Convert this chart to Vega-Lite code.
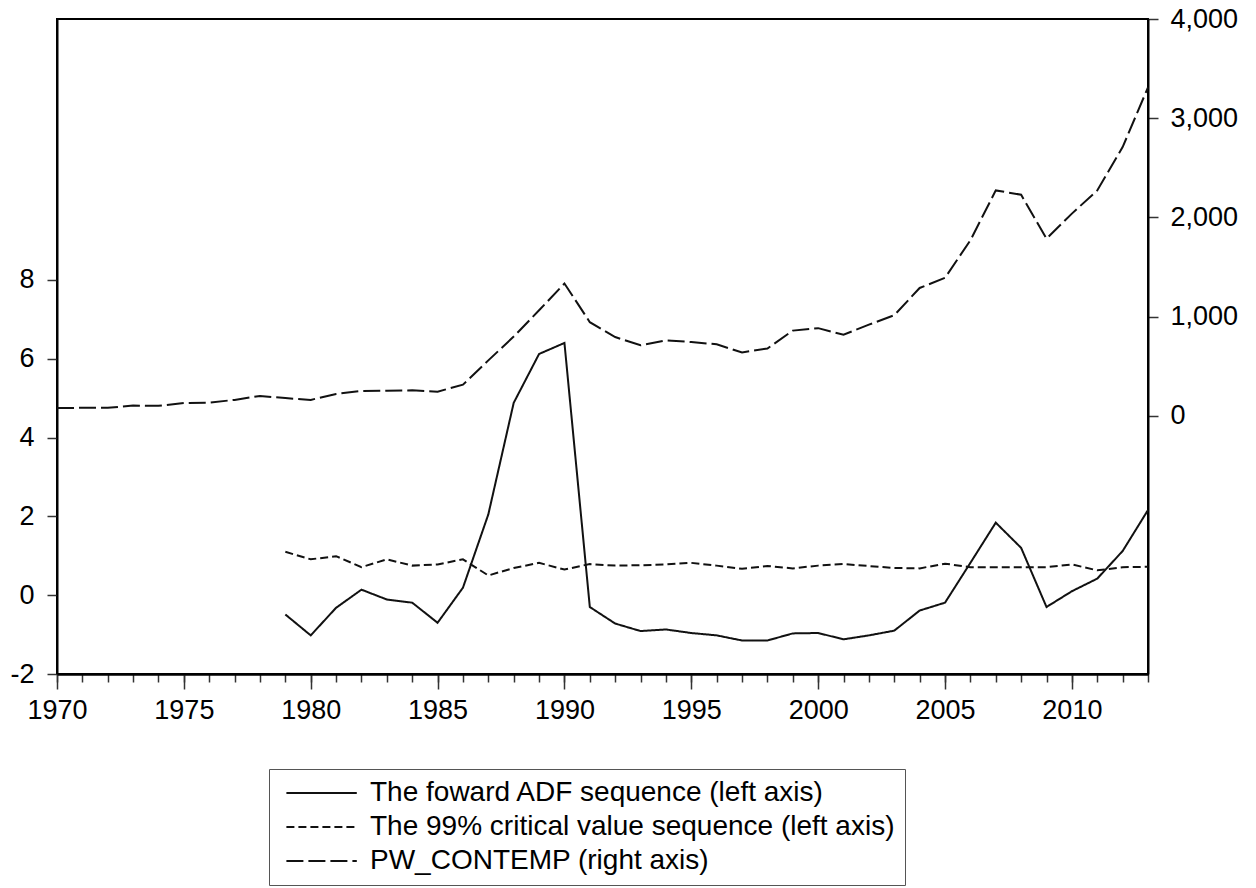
{
  "$schema": "https://vega.github.io/schema/vega-lite/v6.json",
  "width": 1091,
  "height": 655,
  "autosize": {"type": "none"},
  "padding": {"left": 57, "top": 19, "right": 108, "bottom": 214},
  "background": "white",
  "config": {
    "font": "Liberation Sans",
    "view": {"stroke": "black", "strokeWidth": 2},
    "axis": {
      "grid": false,
      "title": null,
      "domainColor": "black",
      "domainWidth": 2,
      "tickColor": "#333333",
      "tickWidth": 1.5,
      "labelColor": "black",
      "labelFont": "Liberation Sans",
      "labelFontSize": 27,
      "labelFlush": false
    }
  },
  "datasets": {
    "adf": [
      {"year": 1979, "value": -0.49}, {"year": 1980, "value": -1.02}, {"year": 1981, "value": -0.32},
      {"year": 1982, "value": 0.14}, {"year": 1983, "value": -0.11}, {"year": 1984, "value": -0.19},
      {"year": 1985, "value": -0.70}, {"year": 1986, "value": 0.19}, {"year": 1987, "value": 2.05},
      {"year": 1988, "value": 4.88}, {"year": 1989, "value": 6.12}, {"year": 1990, "value": 6.40},
      {"year": 1991, "value": -0.30}, {"year": 1992, "value": -0.72}, {"year": 1993, "value": -0.91},
      {"year": 1994, "value": -0.87}, {"year": 1995, "value": -0.96}, {"year": 1996, "value": -1.02},
      {"year": 1997, "value": -1.15}, {"year": 1998, "value": -1.15}, {"year": 1999, "value": -0.97},
      {"year": 2000, "value": -0.96}, {"year": 2001, "value": -1.12}, {"year": 2002, "value": -1.02},
      {"year": 2003, "value": -0.90}, {"year": 2004, "value": -0.39}, {"year": 2005, "value": -0.19},
      {"year": 2006, "value": 0.82}, {"year": 2007, "value": 1.84}, {"year": 2008, "value": 1.20},
      {"year": 2009, "value": -0.30}, {"year": 2010, "value": 0.10}, {"year": 2011, "value": 0.42},
      {"year": 2012, "value": 1.12}, {"year": 2013, "value": 2.16}
    ],
    "crit": [
      {"year": 1979, "value": 1.10}, {"year": 1980, "value": 0.91}, {"year": 1981, "value": 0.99},
      {"year": 1982, "value": 0.71}, {"year": 1983, "value": 0.91}, {"year": 1984, "value": 0.75},
      {"year": 1985, "value": 0.78}, {"year": 1986, "value": 0.91}, {"year": 1987, "value": 0.50},
      {"year": 1988, "value": 0.69}, {"year": 1989, "value": 0.82}, {"year": 1990, "value": 0.65},
      {"year": 1991, "value": 0.79}, {"year": 1992, "value": 0.75}, {"year": 1993, "value": 0.76},
      {"year": 1994, "value": 0.78}, {"year": 1995, "value": 0.82}, {"year": 1996, "value": 0.75},
      {"year": 1997, "value": 0.67}, {"year": 1998, "value": 0.74}, {"year": 1999, "value": 0.68},
      {"year": 2000, "value": 0.75}, {"year": 2001, "value": 0.79}, {"year": 2002, "value": 0.74},
      {"year": 2003, "value": 0.69}, {"year": 2004, "value": 0.68}, {"year": 2005, "value": 0.80},
      {"year": 2006, "value": 0.71}, {"year": 2007, "value": 0.71}, {"year": 2008, "value": 0.71},
      {"year": 2009, "value": 0.71}, {"year": 2010, "value": 0.78}, {"year": 2011, "value": 0.63},
      {"year": 2012, "value": 0.71}, {"year": 2013, "value": 0.72}
    ],
    "pw": [
      {"year": 1970, "value": 80}, {"year": 1971, "value": 82}, {"year": 1972, "value": 82},
      {"year": 1973, "value": 105}, {"year": 1974, "value": 102}, {"year": 1975, "value": 130},
      {"year": 1976, "value": 135}, {"year": 1977, "value": 162}, {"year": 1978, "value": 202},
      {"year": 1979, "value": 180}, {"year": 1980, "value": 162}, {"year": 1981, "value": 222},
      {"year": 1982, "value": 252}, {"year": 1983, "value": 255}, {"year": 1984, "value": 258},
      {"year": 1985, "value": 245}, {"year": 1986, "value": 315}, {"year": 1987, "value": 560},
      {"year": 1988, "value": 800}, {"year": 1989, "value": 1065}, {"year": 1990, "value": 1335},
      {"year": 1991, "value": 945}, {"year": 1992, "value": 795}, {"year": 1993, "value": 712},
      {"year": 1994, "value": 762}, {"year": 1995, "value": 745}, {"year": 1996, "value": 722},
      {"year": 1997, "value": 640}, {"year": 1998, "value": 680}, {"year": 1999, "value": 860},
      {"year": 2000, "value": 885}, {"year": 2001, "value": 818}, {"year": 2002, "value": 920},
      {"year": 2003, "value": 1015}, {"year": 2004, "value": 1290}, {"year": 2005, "value": 1392},
      {"year": 2006, "value": 1770}, {"year": 2007, "value": 2273}, {"year": 2008, "value": 2229},
      {"year": 2009, "value": 1787}, {"year": 2010, "value": 2039}, {"year": 2011, "value": 2273},
      {"year": 2012, "value": 2709}, {"year": 2013, "value": 3311}
    ]
  },
  "layer": [
    {
      "data": {"name": "adf"},
      "mark": {"type": "line", "color": "#111111", "strokeWidth": 2},
      "encoding": {
        "x": {
          "field": "year", "type": "quantitative",
          "scale": {"domain": [1970, 2013], "nice": false, "zero": false},
          "axis": {
            "orient": "bottom", "labels": false, "tickSize": 8,
            "values": [1970,1971,1972,1973,1974,1975,1976,1977,1978,1979,1980,1981,1982,1983,1984,1985,1986,1987,1988,1989,1990,1991,1992,1993,1994,1995,1996,1997,1998,1999,2000,2001,2002,2003,2004,2005,2006,2007,2008,2009,2010,2011,2012,2013]
          }
        },
        "y": {
          "field": "value", "type": "quantitative",
          "scale": {"domain": [-2, 14.62], "nice": false, "zero": false},
          "axis": {
            "orient": "left", "values": [-2, 0, 2, 4, 6, 8], "tickSize": 10, "labelPadding": 13,
            "labelExpr": "replace(datum.label, '\u2212', '-')"
          }
        },
        "strokeDash": {
          "datum": "The foward ADF sequence (left axis)", "type": "nominal",
          "scale": {
            "domain": ["The foward ADF sequence (left axis)", "The 99% critical value sequence (left axis)", "PW_CONTEMP (right axis)"],
            "range": [[1, 0], [8, 4], [17, 5]]
          },
          "legend": {
            "orient": "none", "legendX": 212, "legendY": 750, "title": null,
            "direction": "vertical",
            "symbolType": "M-0.6,0H5.8", "symbolSize": 484, "symbolStrokeWidth": 2,
            "symbolStrokeColor": "black", "symbolFillColor": "transparent",
            "labelFontSize": 28, "labelColor": "black", "labelFont": "Liberation Sans",
            "labelLimit": 900,
            "labelOffset": 63, "rowPadding": 6, "padding": 10,
            "strokeColor": "#555555", "fillColor": "white"
          }
        }
      }
    },
    {
      "data": {"name": "crit"},
      "mark": {"type": "line", "color": "#111111", "strokeWidth": 2},
      "encoding": {
        "x": {
          "field": "year", "type": "quantitative",
          "scale": {"domain": [1970, 2013], "nice": false, "zero": false},
          "axis": {
            "orient": "bottom", "tickSize": 15, "labelPadding": 8, "format": "d",
            "values": [1970, 1975, 1980, 1985, 1990, 1995, 2000, 2005, 2010]
          }
        },
        "y": {
          "field": "value", "type": "quantitative",
          "scale": {"domain": [-2, 14.62], "nice": false, "zero": false},
          "axis": null
        },
        "strokeDash": {"datum": "The 99% critical value sequence (left axis)", "type": "nominal"}
      }
    },
    {
      "data": {"name": "pw"},
      "mark": {"type": "line", "color": "#111111", "strokeWidth": 2},
      "encoding": {
        "x": {
          "field": "year", "type": "quantitative",
          "scale": {"domain": [1970, 2013], "nice": false, "zero": false},
          "axis": null
        },
        "y": {
          "field": "value", "type": "quantitative",
          "scale": {"domain": [-2600, 4000], "nice": false, "zero": false},
          "axis": {"orient": "right", "values": [0, 1000, 2000, 3000, 4000], "format": ",d", "tickSize": 10, "labelPadding": 12}
        },
        "strokeDash": {"datum": "PW_CONTEMP (right axis)", "type": "nominal"}
      }
    }
  ],
  "resolve": {
    "scale": {"y": "independent"},
    "axis": {"y": "independent", "x": "independent"}
  }
}
